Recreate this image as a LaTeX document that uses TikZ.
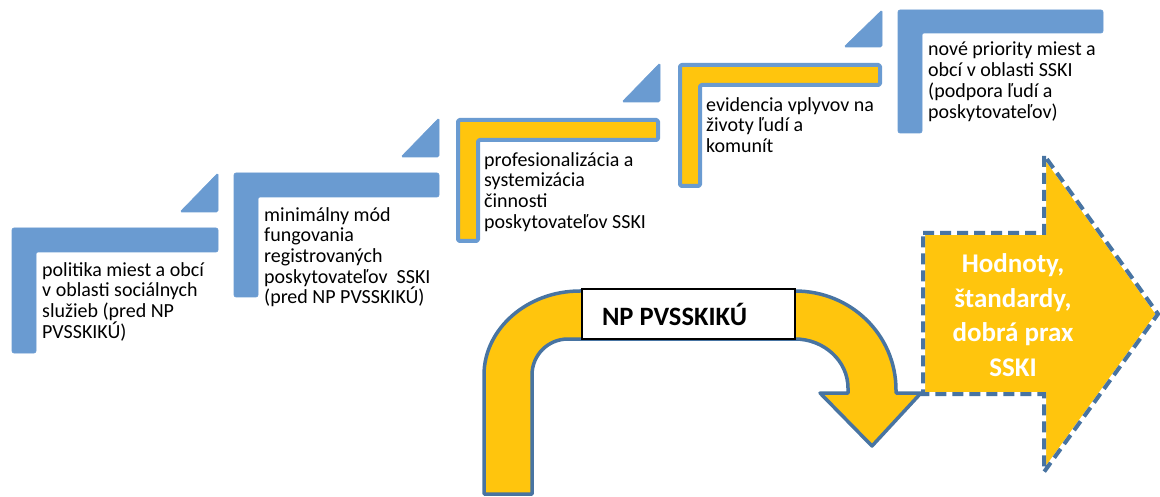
\documentclass[tikz,border=0pt]{standalone}
\usepackage{fontspec}
\setmainfont{Carlito}
\definecolor{stepblue}{RGB}{106,155,209}
\definecolor{gold}{RGB}{255,197,13}
\definecolor{edgeblue}{RGB}{72,116,162}
\begin{document}
\begin{tikzpicture}[x=1pt,y=-1pt,
  bluestep/.style={fill=stepblue, draw=stepblue, line width=0.6pt, rounded corners=2pt},
  goldstep/.style={fill=gold, draw=stepblue, line width=4pt, rounded corners=1.5pt, line join=round},
  cornertri/.style={fill=stepblue, draw=stepblue, line width=0.6pt, rounded corners=1.5pt},
  steptext/.style={anchor=north west, inner sep=0pt, align=left, text=black, font=\fontsize{20}{20.7}\selectfont},
  uarrow/.style={fill=gold, draw=edgeblue, line width=3.5pt, line join=round},
  bigarrow/.style={draw=edgeblue, line width=4pt, dash pattern=on 11pt off 6pt, line join=miter},
  npstyle/.style={draw=black, line width=1.2pt, fill=white, minimum width=213pt, minimum height=50pt, inner xsep=20pt, inner ysep=0pt, font=\bfseries\fontsize{26.5}{26.5}\selectfont},
  bigtext/.style={text=white, align=center, inner sep=0pt, font=\bfseries\fontsize{27}{34.5}\selectfont}
]
\useasboundingbox (0,0) rectangle (1160,497);

% ---------- steps ----------
% step 1
\draw[bluestep] (12,228) -- (218,228) -- (218,252) -- (36,252) -- (36,353) -- (12,353) -- cycle;
\draw[cornertri] (218,173) -- (218,212) -- (180,212) -- cycle;
\node[steptext] (t1) at (42,262) {politika miest a obcí\\v oblasti sociálnych\\služieb (pred NP\\PVSSKIKÚ)};
% step 2
\draw[bluestep] (234,173) -- (439,173) -- (439,197) -- (258,197) -- (258,297) -- (234,297) -- cycle;
\draw[cornertri] (439,118) -- (439,157) -- (401,157) -- cycle;
\node[steptext] (t2) at (264,207) {minimálny mód\\fungovania\\registrovaných\\poskytovateľov\ \ SSKI\\(pred NP PVSSKIKÚ)};
% step 3
\draw[goldstep] (458,120) -- (658,120) -- (658,140) -- (478,140) -- (478,241) -- (458,241) -- cycle;
\draw[cornertri] (660,63) -- (660,102) -- (622,102) -- cycle;
\node[steptext] (t3) at (484,152) {profesionalizácia a\\systemizácia\\činnosti\\poskytovateľov SSKI};
% step 4
\draw[goldstep] (680,65) -- (880,65) -- (880,85) -- (700,85) -- (700,186) -- (680,186) -- cycle;
\draw[cornertri] (882,10) -- (882,47) -- (844,47) -- cycle;
\node[steptext] (t4) at (706,97) {evidencia vplyvov na\\životy ľudí a\\komunít};
% step 5
\draw[bluestep] (898,10) -- (1103,10) -- (1103,33) -- (922,33) -- (922,133) -- (898,133) -- cycle;
\node[steptext] (t5) at (928,42) {nové priority miest a\\obcí v oblasti SSKI\\(podpora ľudí a\\poskytovateľov)};

% ---------- big arrow ----------
\fill[gold] (923,233) -- (1044,233) -- (1044,155) -- (1158,314) -- (1044,472) -- (1044,394) -- (923,394) -- cycle;
\draw[draw=white, line width=4pt, line join=miter] (923,233) -- (1044,233) -- (1044,155) -- (1158,314) -- (1044,472) -- (1044,394) -- (923,394) -- cycle;
\draw[bigarrow] (923,233) -- (1044,233) -- (1044,155) -- (1158,314) -- (1044,472) -- (1044,394) -- (923,394) -- cycle;
\node[bigtext] (values) at (1013,315) {Hodnoty,\\štandardy,\\dobrá prax\\SSKI};

% ---------- U-turn arrow ----------
\draw[uarrow] (484,494) -- (484,375)
  .. controls (484,329) and (527,291) .. (580,291)
  -- (795,291)
  .. controls (851,291) and (896,335) .. (896,390)
  -- (896,393) -- (921,393) -- (872,446) -- (820,393) -- (848,393) -- (848,388)
  .. controls (848,361) and (824,339) .. (795,339)
  -- (568,339)
  .. controls (548,339) and (532,355) .. (532,375)
  -- (532,494) -- cycle;
\node[npstyle] (np) at (688.5,314) {\makebox[173pt][l]{\raisebox{-1.5pt}{NP PVSSKIKÚ}}};
\end{tikzpicture}
\end{document}
